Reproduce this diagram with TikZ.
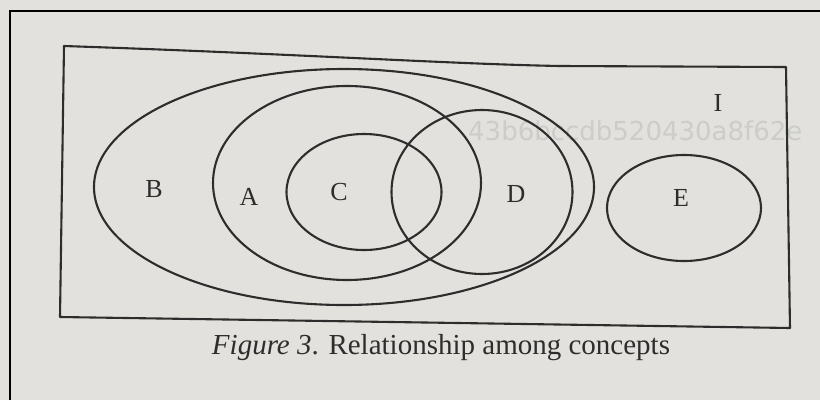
\documentclass[tikz,border=0pt]{standalone}
\usepackage{fontspec}
\setmainfont{Liberation Serif}
\newfontfamily\wmfont{DejaVu Sans}
\usetikzlibrary{shapes.geometric}
\definecolor{paper}{RGB}{226,225,221}
\definecolor{ink}{RGB}{45,45,45}
\definecolor{ghost}{RGB}{204,204,202}
\tikzset{
  setbox/.style={ellipse, draw=ink, line width=2.1pt, inner sep=0pt, fill=none},
  lbl/.style={text=ink, font=\fontsize{26}{28}\selectfont, inner sep=0pt},
}
\begin{document}
\begin{tikzpicture}[x=1pt,y=-1pt]
\useasboundingbox (0,0) rectangle (820,400);
\fill[paper] (0,0) rectangle (820,400);
% photo frame
\draw[black, line width=2.5pt] (10,400) -- (10,11) -- (820,11);
% faint bleed-through text
\node[anchor=base west, text=ghost, font=\wmfont\fontsize{26}{28}\selectfont, inner sep=0pt] (wm) at (468,140) {43b6bccdb520430a8f62e};
% universe I
\draw[ink, line width=2.1pt, line join=round] (64,46) .. controls (300,54) and (450,64) .. (560,66) -- (786,67) -- (790,328) -- (60,317) -- cycle;
% sets
\node[setbox, minimum width=500pt, minimum height=236pt] (B) at (344,187) {};
\node[setbox, minimum width=268pt, minimum height=194pt] (A) at (347,183) {};
\node[setbox, minimum width=155pt, minimum height=116pt] (C) at (364,192) {};
\node[setbox, minimum width=181pt, minimum height=164pt] (D) at (482,192) {};
\node[setbox, minimum width=154pt, minimum height=106pt] (E) at (684,208) {};
% labels
\node[lbl] (lB) at (154,189) {B};
\node[lbl] (lA) at (249,197) {A};
\node[lbl] (lC) at (339,192) {C};
\node[lbl] (lD) at (516,194) {D};
\node[lbl] (lE) at (681,198) {E};
\node[lbl] (lI) at (718,103) {I};
% caption
\node[anchor=base, text=ink, font=\fontsize{29}{31}\selectfont, inner sep=0pt] (cap) at (441,354) {\textit{Figure 3}. Relationship among concepts};
\end{tikzpicture}
\end{document}
